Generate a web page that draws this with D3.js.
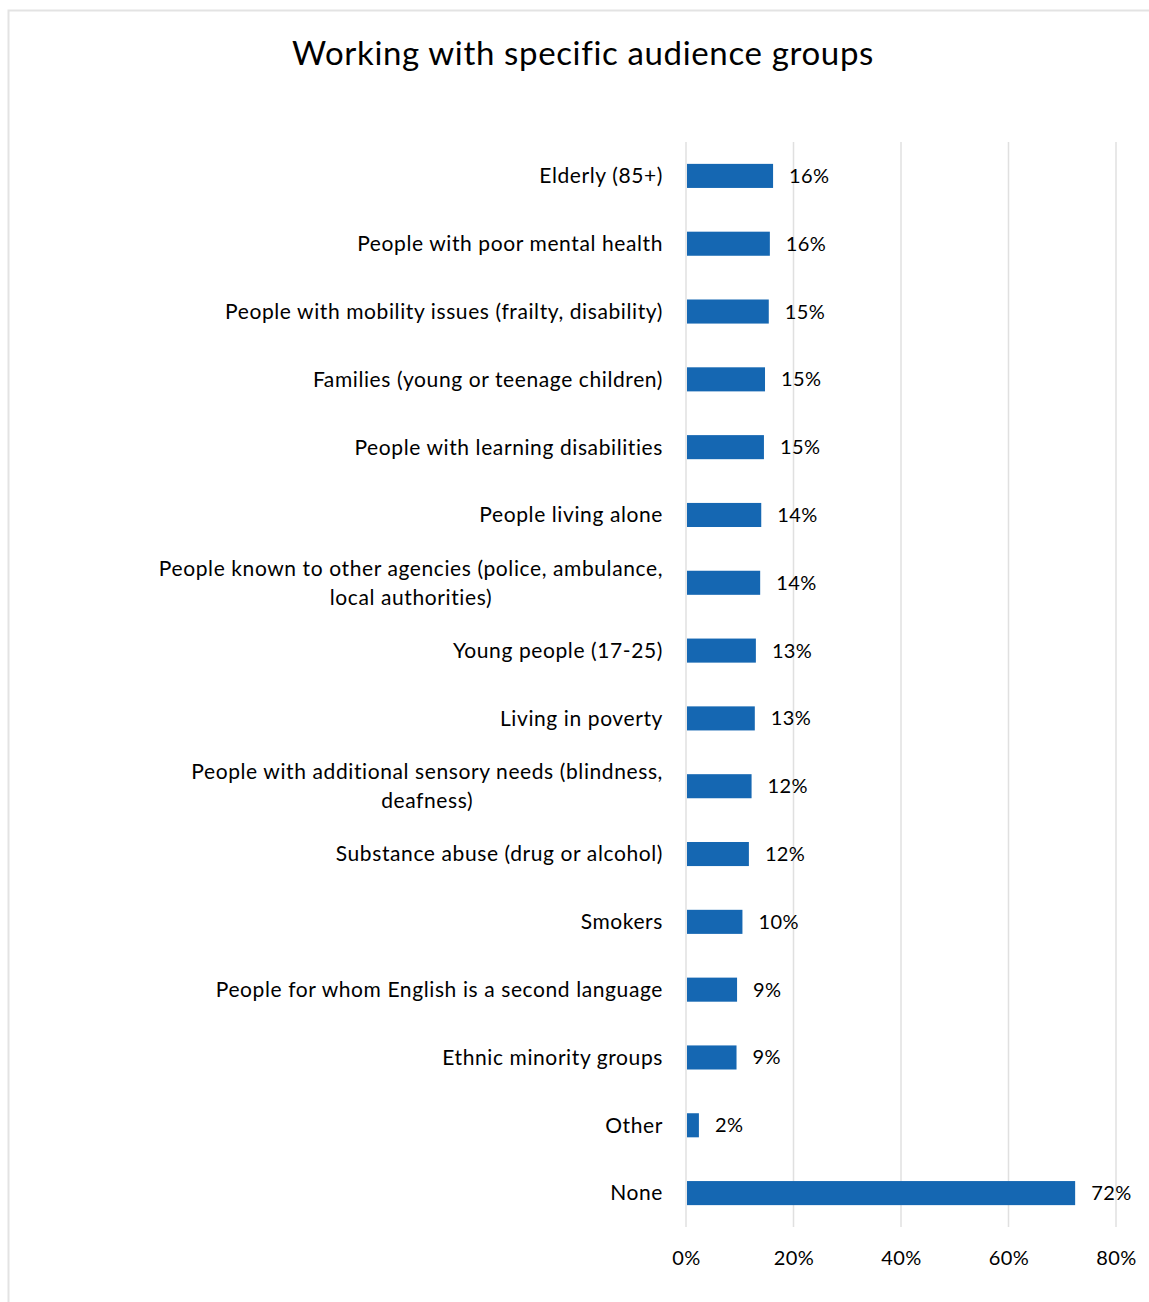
<!DOCTYPE html>
<html><head><meta charset="utf-8">
<script src="https://cdn.jsdelivr.net/npm/d3@7"></script>
<style>body{margin:0;background:#fff;} svg{display:block;}</style>
</head><body>
<svg id="chart" width="1149" height="1302"></svg>
<script>
const categories = [
  ["Elderly (85+)"],
  ["People with poor mental health"],
  ["People with mobility issues (frailty, disability)"],
  ["Families (young or teenage children)"],
  ["People with learning disabilities"],
  ["People living alone"],
  ["People known to other agencies (police, ambulance,", "local authorities)"],
  ["Young people (17-25)"],
  ["Living in poverty"],
  ["People with additional sensory needs (blindness,", "deafness)"],
  ["Substance abuse (drug or alcohol)"],
  ["Smokers"],
  ["People for whom English is a second language"],
  ["Ethnic minority groups"],
  ["Other"],
  ["None"]
];
const values = [16.2, 15.6, 15.4, 14.7, 14.5, 14.0, 13.8, 13.0, 12.8, 12.2, 11.7, 10.5, 9.5, 9.4, 2.4, 72.4];
const valueLabels = ["16%","16%","15%","15%","15%","14%","14%","13%","13%","12%","12%","10%","9%","9%","2%","72%"];
const xTicks = [0, 20, 40, 60, 80];
const title = "Working with specific audience groups";

const font = "Lato, 'Open Sans', sans-serif";
const svg = d3.select("#chart");
const W = 1149, H = 1302;
const m = {left: 686, right: 1116, top: 142, bottom: 1227};

svg.append("rect").attr("x", 8.5).attr("y", 10.5).attr("width", W + 10).attr("height", H + 10)
  .attr("fill", "#fff").attr("stroke", "#e3e3e3").attr("stroke-width", 2);

svg.append("text").attr("x", 583).attr("y", 65).attr("text-anchor", "middle")
  .attr("font-family", font).attr("font-size", 33).attr("letter-spacing", 0.65)
  .attr("fill", "#000").text(title);

const x = d3.scaleLinear().domain([0, 80]).range([m.left, m.right]);
const idx = d3.range(categories.length);
const y = d3.scaleBand().domain(idx).range([m.top, m.bottom]).paddingInner(0.645).paddingOuter(0.3225);

// gridlines
svg.append("g").selectAll("line").data(xTicks).join("line")
  .attr("x1", d => x(d)).attr("x2", d => x(d))
  .attr("y1", m.top).attr("y2", m.bottom)
  .attr("stroke", "#e0e0e0").attr("stroke-width", 1.5);

// bars
svg.append("g").selectAll("rect").data(idx).join("rect")
  .attr("x", x(0) + 1).attr("y", i => y(i))
  .attr("width", i => x(values[i]) - x(0) - 1).attr("height", y.bandwidth())
  .attr("fill", "#1567b2");

// value labels
svg.append("g").selectAll("text").data(idx).join("text")
  .attr("x", i => x(values[i]) + 16).attr("y", i => y(i) + y.bandwidth() / 2)
  .attr("dy", "0.35em").attr("font-family", font).attr("font-size", 20)
  .attr("letter-spacing", 0.4).attr("fill", "#000")
  .text(i => valueLabels[i]);

// category labels
const lab = svg.append("g").selectAll("text").data(idx).join("text")
  .attr("font-family", font).attr("font-size", 21).attr("letter-spacing", 0.6).attr("fill", "#000")
  .attr("text-anchor", "middle");
lab.each(function(i) {
  const lines = categories[i];
  const t = d3.select(this);
  const cy = y(i) + y.bandwidth() / 2;
  const lh = 29;
  lines.forEach((s, k) => {
    t.append("tspan").attr("y", cy + (k - (lines.length - 1) / 2) * lh).attr("dy", "0.35em").text(s);
  });
  const widths = [];
  t.selectAll("tspan").each(function() { widths.push(this.getComputedTextLength()); });
  const maxW = d3.max(widths);
  t.selectAll("tspan").attr("x", 663 - maxW / 2);
});

// x axis labels
const axis = d3.axisBottom(x).tickValues(xTicks).tickFormat(d => d + "%").tickSize(0).tickPadding(0);
const ga = svg.append("g").attr("transform", `translate(0,${1251})`).call(axis);
ga.select(".domain").remove();
ga.selectAll("text").attr("font-family", font).attr("font-size", 20).attr("letter-spacing", 0.4).attr("fill", "#000");
</script>
</body></html>
